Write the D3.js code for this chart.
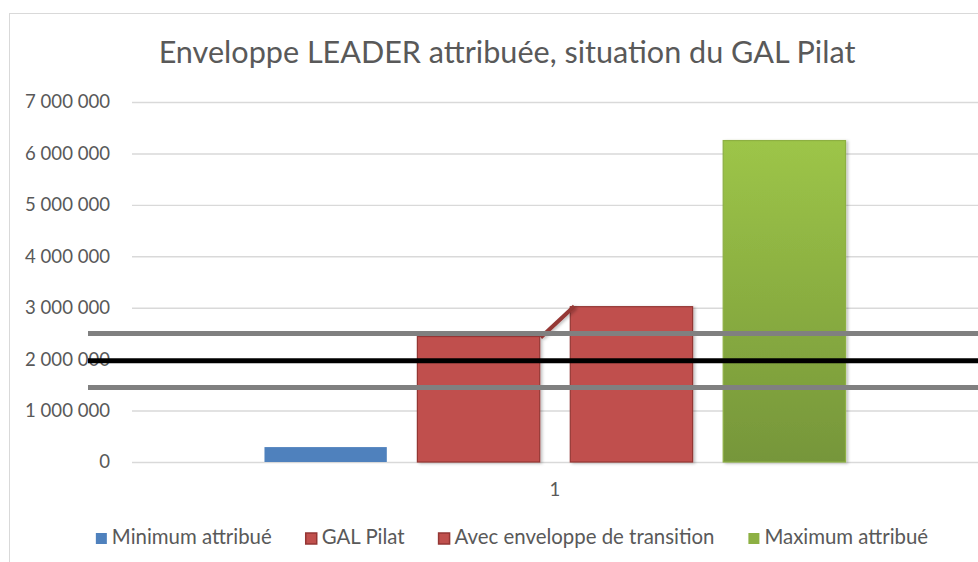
<!DOCTYPE html>
<html>
<head>
<meta charset="utf-8">
<script src="https://cdn.jsdelivr.net/npm/d3@7"></script>
<style>
  body { margin: 0; background: #fff; }
  text { font-family: Lato, "Open Sans", sans-serif; fill: #595959; }
</style>
</head>
<body>
<div id="chart"></div>
<script>
// data
var categories = ["1"];
var seriesNames = ["Minimum attribué", "GAL Pilat", "Avec enveloppe de transition", "Maximum attribué"];
var seriesValues = [290000, 2440000, 3020000, 6250000];
var seriesColors = ["#4F81BD", "#C0504D", "#C0504D", "#8DB043"];
var refLines = [2500000, 1970000, 1450000];
var refColors = ["#808080", "#000000", "#808080"];
var yTicks = [0, 1000000, 2000000, 3000000, 4000000, 5000000, 6000000, 7000000];
var title = "Enveloppe LEADER attribuée, situation du GAL Pilat";

var W = 978, H = 562;
var plot = {left: 132, right: 978, top: 102, bottom: 462};

var svg = d3.select("#chart").append("svg")
    .attr("width", W)
    .attr("height", H);

var defs = svg.append("defs");
var grad = defs.append("linearGradient")
    .attr("id", "greenGrad")
    .attr("x1", 0).attr("y1", 0).attr("x2", 0).attr("y2", 1);
grad.append("stop").attr("offset", "0%").attr("stop-color", "#9DC548");
grad.append("stop").attr("offset", "100%").attr("stop-color", "#76963A");

var shadow = defs.append("filter").attr("id", "shadow")
    .attr("x", "-10%").attr("y", "-10%").attr("width", "130%").attr("height", "130%");
shadow.append("feDropShadow")
    .attr("dx", 2).attr("dy", 1).attr("stdDeviation", 1.5)
    .attr("flood-color", "#000").attr("flood-opacity", 0.25);

// chart frame (cut by the page on the right and bottom)
svg.append("rect")
    .attr("x", 9.5).attr("y", 13.5)
    .attr("width", 1100).attr("height", 700)
    .attr("fill", "none")
    .attr("stroke", "#d9d9d9");

// helper: pick a font size so the text fits a measured width
function fitFont(sel, target) {
  sel.attr("font-size", 20);
  var w = sel.node().getComputedTextLength();
  sel.attr("font-size", 20 * target / w);
}

// title
var t = svg.append("text")
    .attr("x", 507)
    .attr("y", 63)
    .attr("text-anchor", "middle")
    .text(title);
fitFont(t, 697);

// scales
var y = d3.scaleLinear()
    .domain([0, 7000000])
    .range([plot.bottom, plot.top]);

var x0 = d3.scaleBand()
    .domain(categories)
    .range([plot.left, plot.right])
    .paddingOuter(0.228)
    .paddingInner(0);

var x1 = d3.scaleBand()
    .domain(seriesNames)
    .range([0, x0.bandwidth()])
    .paddingInner(0.2)
    .paddingOuter(0);

var fr = d3.formatLocale({decimal: ",", thousands: " ", grouping: [3], currency: ["", " €"]});
var fmt = fr.format(",");

// gridlines
svg.append("g")
    .selectAll("line")
    .data(yTicks)
    .enter()
    .append("line")
      .attr("x1", plot.left)
      .attr("x2", plot.right)
      .attr("y1", function(d) { return y(d) + 0.5; })
      .attr("y2", function(d) { return y(d) + 0.5; })
      .attr("stroke", "#d9d9d9")
      .attr("stroke-width", 1.4);

// Y axis labels
var yAxis = svg.append("g")
    .attr("transform", "translate(110,0)")
    .call(d3.axisLeft(y).tickValues(yTicks).tickFormat(fmt).tickSize(0).tickPadding(0));
yAxis.select(".domain").remove();
yAxis.selectAll("text")
    .attr("font-family", "Lato, 'Open Sans', sans-serif")
    .attr("fill", "#595959");
fitFont(yAxis.select(".tick:last-of-type text"), 85);
var ySize = yAxis.select(".tick:last-of-type text").attr("font-size");
yAxis.selectAll("text").attr("font-size", ySize);

// category label
var xAxis = svg.append("g")
    .attr("transform", "translate(0," + plot.bottom + ")")
    .call(d3.axisBottom(x0).tickSize(0).tickPadding(21));
xAxis.select(".domain").remove();
xAxis.selectAll("text")
    .attr("font-family", "Lato, 'Open Sans', sans-serif")
    .attr("fill", "#595959")
    .attr("font-size", ySize);

// bars
var bars = seriesValues.map(function(v, i) {
  return {name: seriesNames[i], value: v, color: seriesColors[i], cat: categories[0]};
});

svg.append("g")
  .selectAll("rect")
  .data(bars)
  .enter()
  .append("rect")
    .attr("x", function(d) { return x0(d.cat) + x1(d.name); })
    .attr("y", function(d) { return y(d.value); })
    .attr("width", x1.bandwidth())
    .attr("height", function(d) { return y(0) - y(d.value); })
    .attr("fill", function(d, i) { return i == 3 ? "url(#greenGrad)" : d.color; })
    .attr("stroke", function(d, i) { return i == 1 || i == 2 ? "#943634" : (i == 3 ? "#8DB043" : "none"); })
    .attr("stroke-width", function(d, i) { return i == 0 ? 0 : 1.2; })
    .attr("filter", function(d, i) { return i == 0 ? null : "url(#shadow)"; });

// connector between the two red bars
var b1 = bars[1], b2 = bars[2];
svg.append("line")
    .attr("x1", x0(b1.cat) + x1(b1.name) + x1.bandwidth() + 1)
    .attr("y1", y(b1.value) + 1)
    .attr("x2", x0(b2.cat) + x1(b2.name) + 4)
    .attr("y2", y(b2.value) - 0.5)
    .attr("stroke", "#953735")
    .attr("stroke-width", 4)
    .attr("filter", "url(#shadow)");

// reference lines across the plot
svg.append("g")
  .selectAll("line")
  .data(refLines)
  .enter()
  .append("line")
    .attr("x1", 88)
    .attr("x2", W)
    .attr("y1", function(d) { return y(d); })
    .attr("y2", function(d) { return y(d); })
    .attr("stroke", function(d, i) { return refColors[i]; })
    .attr("stroke-width", 5);

// legend
var legend = svg.append("g");
var items = legend.selectAll("g")
    .data(bars)
    .enter()
    .append("g");
items.append("rect")
    .attr("width", 11)
    .attr("height", 11)
    .attr("y", -11)
    .attr("fill", function(d, i) { return i == 3 ? "#8DB043" : d.color; })
    .attr("stroke", function(d, i) { return i == 1 || i == 2 ? "#943634" : "none"; })
    .attr("stroke-width", 1.5);
var labels = items.append("text")
    .attr("x", 16)
    .attr("y", 0)
    .text(function(d) { return d.name; });
fitFont(labels.filter(function(d, i) { return i == 0; }), 160);
var lSize = labels.filter(function(d, i) { return i == 0; }).attr("font-size");
labels.attr("font-size", lSize);

var xpos = 0, pos = [];
labels.each(function() {
  pos.push(xpos);
  xpos += 16 + this.getComputedTextLength() + 34;
});
var total = xpos - 34;
var startX = 512 - total / 2;
items.attr("transform", function(d, i) { return "translate(" + (startX + pos[i]) + ",544)"; });
</script>
</body>
</html>
